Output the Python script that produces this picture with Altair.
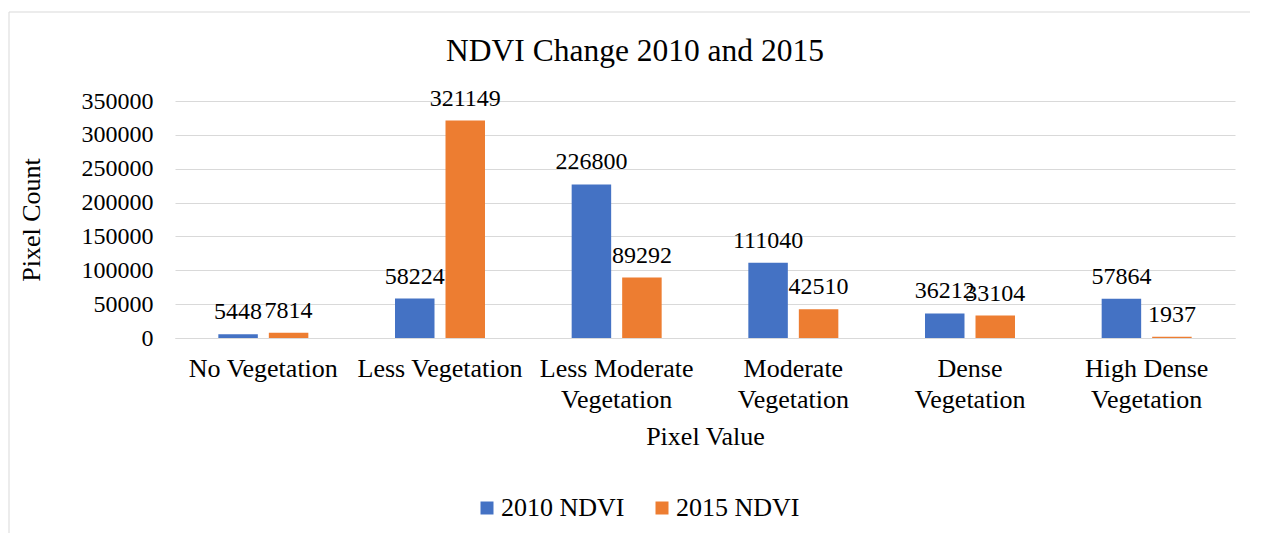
import altair as alt
import pandas as pd

categories = ["No Vegetation", "Less Vegetation", "Less Moderate Vegetation",
              "Moderate Vegetation", "Dense Vegetation", "High Dense Vegetation"]
label_lines = [["No Vegetation"], ["Less Vegetation"], ["Less Moderate", "Vegetation"],
               ["Moderate", "Vegetation"], ["Dense", "Vegetation"], ["High Dense", "Vegetation"]]
series = ["2010 NDVI", "2015 NDVI"]
values_2010 = [5448, 58224, 226800, 111040, 36212, 57864]
values_2015 = [7814, 321149, 89292, 42510, 33104, 1937]
y_ticks = [0, 50000, 100000, 150000, 200000, 250000, 300000, 350000]
colors = ["#4472C4", "#ED7D31"]
title_text = "NDVI Change 2010 and 2015"

rows = []
for c, a, b in zip(categories, values_2010, values_2015):
    rows.append({"cat": c, "series": series[0], "value": a})
    rows.append({"cat": c, "series": series[1], "value": b})
df = pd.DataFrame(rows)

expr = "datum.value"
for c, lines in zip(categories, label_lines):
    if len(lines) > 1:
        arr = "[" + ", ".join("'" + l + "'" for l in lines) + "]"
        expr = f"datum.value == '{c}' ? {arr} : ({expr})"

FONT = "Liberation Serif"
W, H = 1060, 237

x_enc = alt.X("cat:N", sort=categories,
              scale=alt.Scale(paddingInner=0, paddingOuter=0),
              axis=alt.Axis(title="Pixel Value", labelExpr=expr, labelAngle=0,
                            labelFontSize=26, labelPadding=17, labelLineHeight=31,
                            labelColor="black", labelFont=FONT, ticks=False,
                            domainColor="#d9d9d9", titleFont=FONT, titleFontSize=26,
                            titleFontWeight="normal", titleColor="black",
                            titleY=98, titleBaseline="middle", grid=False))
xoff = alt.XOffset("series:N", sort=series,
                   scale=alt.Scale(paddingInner=0.218, paddingOuter=0.858))
y_enc = alt.Y("value:Q", scale=alt.Scale(domain=[0, 350000], nice=False),
              axis=alt.Axis(title="Pixel Count", values=y_ticks, format="d",
                            labelFontSize=24, labelFont=FONT, labelColor="black",
                            labelPadding=22, ticks=False, domain=False,
                            labelOverlap=False, labelBound=False,
                            gridColor="#d9d9d9", gridWidth=1,
                            titleFont=FONT, titleFontSize=26, titleFontWeight="normal",
                            titleColor="black", titleX=-144, titleBaseline="middle"))

bars = alt.Chart(df).mark_bar().encode(
    x=x_enc, xOffset=xoff, y=y_enc,
    color=alt.Color("series:N", sort=series,
                    scale=alt.Scale(domain=series, range=colors),
                    legend=alt.Legend(title=None, orient="none", direction="horizontal",
                                      legendX=299, legendY=394, symbolType="square",
                                      symbolSize=169, symbolStrokeWidth=0,
                                      labelFont=FONT, labelFontSize=26, labelColor="black",
                                      labelOffset=1, columnPadding=24, padding=0)),
)
labels = alt.Chart(df).mark_text(font=FONT, fontSize=24, color="black",
                                 baseline="alphabetic", dy=-15).encode(
    x=x_enc, xOffset=xoff, y=y_enc, text=alt.Text("value:Q", format="d"))

title = alt.Chart(alt.Data(values=[{"t": title_text}])).mark_text(
    font=FONT, fontSize=31.5, color="black", baseline="alphabetic", align="center").encode(
    x=alt.value(W / 2 - 70), y=alt.value(-40), text="t:N")

frame_top = alt.Chart(alt.Data(values=[{}])).mark_rule(color="#d9d9d9", strokeWidth=1).encode(
    x=alt.value(-166), x2=alt.value(2000), y=alt.value(-89))
frame_left = alt.Chart(alt.Data(values=[{}])).mark_rule(color="#d9d9d9", strokeWidth=1).encode(
    x=alt.value(-166), y=alt.value(-89), y2=alt.value(800))

chart = alt.layer(frame_top, frame_left, bars, labels, title).properties(
    width=W, height=H,
    autosize="none",
    padding={"left": 167, "top": 93, "right": 15, "bottom": 195},
).configure_view(stroke=None)

chart.save("out.html", embed_options={"renderer": "svg", "actions": False})
